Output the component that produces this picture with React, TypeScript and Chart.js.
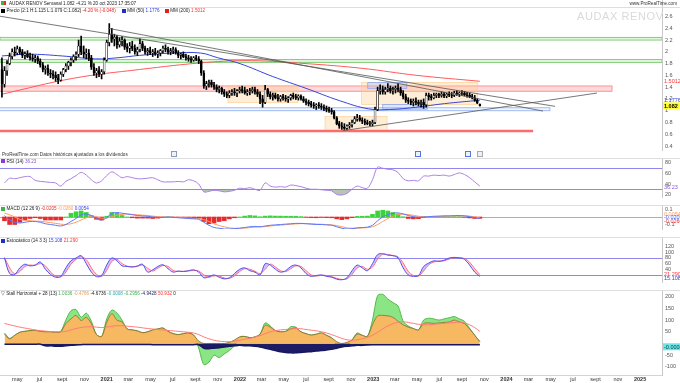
import React, { useEffect, useRef } from "react";
import { Chart, registerables } from "chart.js";

Chart.register(...registerables);

const FONT = '"Liberation Sans", Arial, sans-serif';
Chart.defaults.font.family = FONT;

const DAY0 = Date.UTC(2020, 0, 1);
const toDay = (s: string): number => (Date.parse(s + "T00:00:00Z") - DAY0) / 86400000;

// ---------- axis range (days since 2020-01-01) ----------
const X_MIN = 73.7;
const X_MAX = 1887;
const FIRST_WEEK = "2020-03-16";

// ---------- weekly candles ----------
const OPEN = [
  1.70,1.45,1.68,1.80,1.92,2.00,1.98,2.05,2.00,1.94,
  1.97,1.92,1.90,1.88,1.90,1.84,1.78,1.70,1.72,1.64,
  1.62,1.60,1.56,1.52,1.62,1.70,1.76,1.82,1.86,1.92,
  1.96,2.10,2.00,1.96,1.98,1.90,1.74,1.64,1.68,1.62,
  1.66,1.86,2.16,2.30,2.22,2.25,2.12,2.18,2.20,2.08,
  2.06,2.10,2.06,2.00,2.04,2.14,2.06,2.00,2.02,1.98,
  2.00,1.96,1.98,2.02,2.06,2.04,2.00,2.02,2.04,1.98,
  1.94,1.96,1.92,1.90,1.88,1.86,1.90,1.88,1.84,1.64,
  1.42,1.46,1.48,1.44,1.40,1.36,1.38,1.32,1.28,1.26,
  1.30,1.32,1.30,1.34,1.36,1.34,1.30,1.32,1.34,1.36,
  1.32,1.28,1.20,1.14,1.36,1.28,1.24,1.26,1.22,1.20,
  1.24,1.22,1.20,1.22,1.26,1.24,1.22,1.25,1.20,1.16,
  1.14,1.12,1.10,1.08,1.10,1.08,1.06,1.04,1.02,1.00,
  0.98,0.88,0.78,0.74,0.72,0.70,0.74,0.76,0.80,0.86,
  0.88,0.84,0.82,0.80,0.78,0.78,0.80,1.02,1.34,1.36,
  1.32,1.36,1.38,1.34,1.36,1.38,1.36,1.30,1.24,1.18,
  1.16,1.14,1.16,1.14,1.12,1.14,1.10,1.26,1.24,1.22,
  1.26,1.28,1.26,1.28,1.25,1.28,1.27,1.26,1.30,1.28,
  1.30,1.30,1.27,1.26,1.24,1.22,1.18,1.11
];
const HIGH = [
  1.90,1.75,1.85,1.98,2.05,2.08,2.10,2.08,2.04,2.00,
  2.02,1.98,1.96,1.94,1.93,1.88,1.82,1.76,1.78,1.70,
  1.68,1.66,1.62,1.66,1.72,1.80,1.84,1.90,1.95,2.00,
  2.20,2.27,2.10,2.05,2.04,1.94,1.80,1.72,1.75,1.70,
  1.90,2.20,2.48,2.40,2.30,2.28,2.24,2.26,2.22,2.14,
  2.16,2.18,2.12,2.08,2.22,2.18,2.10,2.06,2.08,2.04,
  2.06,2.02,2.04,2.10,2.12,2.08,2.06,2.08,2.07,2.02,
  1.98,2.00,1.96,1.94,1.92,1.92,1.94,1.92,1.86,1.68,
  1.50,1.52,1.52,1.48,1.44,1.42,1.40,1.36,1.32,1.34,
  1.36,1.38,1.36,1.40,1.42,1.40,1.36,1.38,1.40,1.40,
  1.36,1.32,1.26,1.43,1.38,1.32,1.30,1.30,1.28,1.26,
  1.28,1.26,1.24,1.28,1.30,1.28,1.27,1.27,1.24,1.20,
  1.18,1.16,1.14,1.12,1.14,1.12,1.10,1.08,1.06,1.04,
  1.00,0.90,0.82,0.80,0.78,0.76,0.80,0.84,0.90,0.94,
  0.92,0.88,0.86,0.84,0.82,0.84,1.06,1.40,1.44,1.42,
  1.40,1.46,1.42,1.40,1.42,1.46,1.40,1.34,1.28,1.22,
  1.20,1.20,1.22,1.18,1.18,1.20,1.30,1.30,1.28,1.30,
  1.30,1.30,1.32,1.31,1.30,1.32,1.31,1.33,1.34,1.32,
  1.34,1.33,1.31,1.30,1.28,1.26,1.20,1.115
];
const LOW = [
  1.23,1.40,1.60,1.78,1.88,1.93,1.95,1.96,1.90,1.88,
  1.90,1.86,1.84,1.82,1.80,1.74,1.66,1.62,1.60,1.56,
  1.54,1.50,1.46,1.50,1.58,1.66,1.70,1.76,1.82,1.86,
  1.92,1.95,1.90,1.88,1.85,1.70,1.60,1.56,1.58,1.54,
  1.62,1.84,2.10,2.16,2.10,2.06,2.08,2.10,2.04,2.00,
  1.98,2.02,1.96,1.94,2.00,2.02,1.96,1.94,1.95,1.92,
  1.94,1.90,1.93,1.98,2.00,1.96,1.95,1.97,1.96,1.90,
  1.88,1.90,1.86,1.84,1.82,1.84,1.85,1.80,1.60,1.38,
  1.36,1.40,1.40,1.36,1.32,1.30,1.28,1.24,1.22,1.22,
  1.26,1.26,1.24,1.30,1.30,1.28,1.26,1.27,1.30,1.28,
  1.24,1.12,1.06,1.12,1.24,1.20,1.18,1.20,1.16,1.16,
  1.18,1.16,1.14,1.18,1.20,1.19,1.18,1.18,1.14,1.10,
  1.08,1.06,1.04,1.02,1.04,1.02,1.00,0.98,0.97,0.94,
  0.86,0.76,0.70,0.68,0.66,0.66,0.70,0.72,0.78,0.82,
  0.82,0.78,0.76,0.76,0.74,0.74,0.78,1.00,1.28,1.28,
  1.28,1.32,1.30,1.28,1.30,1.32,1.26,1.20,1.14,1.12,
  1.10,1.08,1.10,1.08,1.06,1.04,1.06,1.18,1.18,1.20,
  1.22,1.22,1.23,1.22,1.22,1.24,1.22,1.24,1.26,1.24,
  1.26,1.25,1.23,1.22,1.20,1.16,1.12,1.079
];
const CLOSE = [
  1.45,1.68,1.80,1.92,2.00,1.98,2.05,2.00,1.94,1.97,
  1.92,1.90,1.88,1.90,1.84,1.78,1.70,1.72,1.64,1.62,
  1.60,1.56,1.52,1.62,1.70,1.76,1.82,1.86,1.92,1.96,
  2.10,2.00,1.96,1.98,1.90,1.74,1.64,1.68,1.62,1.66,
  1.86,2.16,2.30,2.22,2.25,2.12,2.18,2.20,2.08,2.06,
  2.10,2.06,2.00,2.04,2.14,2.06,2.00,2.02,1.98,2.00,
  1.96,1.98,2.02,2.06,2.04,2.00,2.02,2.04,1.98,1.94,
  1.96,1.92,1.90,1.88,1.86,1.90,1.88,1.84,1.64,1.42,
  1.46,1.48,1.44,1.40,1.36,1.38,1.32,1.28,1.26,1.30,
  1.32,1.30,1.34,1.36,1.34,1.30,1.32,1.34,1.36,1.32,
  1.28,1.20,1.14,1.36,1.28,1.24,1.26,1.22,1.20,1.24,
  1.22,1.20,1.22,1.26,1.24,1.22,1.25,1.20,1.16,1.14,
  1.12,1.10,1.08,1.10,1.08,1.06,1.04,1.02,1.00,0.98,
  0.88,0.78,0.74,0.72,0.70,0.74,0.76,0.80,0.86,0.88,
  0.84,0.82,0.80,0.78,0.78,0.80,1.02,1.34,1.36,1.32,
  1.36,1.38,1.34,1.36,1.38,1.36,1.30,1.24,1.18,1.16,
  1.14,1.16,1.14,1.12,1.14,1.10,1.26,1.24,1.22,1.26,
  1.28,1.26,1.28,1.25,1.28,1.27,1.26,1.30,1.28,1.30,
  1.30,1.27,1.26,1.24,1.22,1.18,1.13,1.082
];

// ---------- moving averages ----------
const MA50: [string, number][] = [
  ["2020-03-20", 1.93], ["2020-06-01", 1.96], ["2020-09-01", 1.93], ["2020-12-01", 1.88],
  ["2021-02-01", 1.90], ["2021-04-01", 1.94], ["2021-07-01", 1.98], ["2021-09-15", 1.98],
  ["2021-11-01", 1.90], ["2022-01-01", 1.80], ["2022-04-01", 1.58], ["2022-07-01", 1.38],
  ["2022-10-01", 1.17], ["2022-12-20", 1.03], ["2023-02-15", 1.02], ["2023-05-01", 1.06],
  ["2023-07-15", 1.12], ["2023-10-20", 1.178]
];
const MA200: [string, number][] = [
  ["2020-03-20", 1.28], ["2020-10-01", 1.55], ["2021-04-01", 1.70], ["2021-10-01", 1.82],
  ["2022-02-01", 1.85], ["2022-07-01", 1.80], ["2022-12-01", 1.72], ["2023-05-01", 1.60],
  ["2023-10-20", 1.50]
];

// ---------- drawn objects on the price panel ----------
const GREEN_ZONES: [number, number][] = [[2.2, 2.245], [1.82, 1.87]];
const RED_ZONE: [number, number] = [1.33, 1.42];
const RED_ZONE_END = "2024-10-16";
const BLUE_ZONE: [number, number] = [1.0, 1.05];
const BLUE_ZONE_END = "2024-04-29";
const SUPPORT_LEVEL = 0.655;
const SUPPORT_END = "2024-03-14";
const TRENDLINES: [string, number, string, number][] = [
  ["2020-03-14", 2.606, "2024-05-13", 1.074],
  ["2021-01-05", 2.40, "2024-04-10", 0.994],
  ["2022-10-10", 0.66, "2024-09-05", 1.30]
];
const ORANGE_BOXES: [string, string, number, number][] = [
  ["2021-11-29", "2022-06-09", 1.14, 1.43],
  ["2022-08-22", "2023-02-08", 0.655, 0.90],
  ["2022-11-30", "2023-10-14", 1.106, 1.48]
];
const BLUE_BOXES: [string, string, number, number][] = [
  ["2022-12-17", "2023-04-03", 1.38, 1.477],
  ["2023-01-27", "2023-05-29", 1.026, 1.106]
];

// ---------- indicators (one value every 2 weeks) ----------
const RSI = [42,51,50,52,54,54,47,45,44,43, 42,36,45,50,56,62,57,48,42,46, 56,63,58,52,54,52,50,50,51,52,
  48,44,44,44,45,44,48,46,40,25, 26,28,27,25,26,28,32,31,33,30, 28,42,36,34,35,34,38,37,35,32,
  30,30,29,28,27,20,19,22,30,36, 33,32,48,72,70,68,67,62,50,46, 47,46,55,55,57,56,57,55,58,61, 58,52,44,36];
const RSI_LEVELS = [70, 30];

const MACD = [0.02,-0.04,-0.07,-0.08,-0.07,-0.06,-0.06,-0.07,-0.09,-0.10,
  -0.11,-0.12,-0.10,-0.06,-0.02,0.03,0.04,0.02,-0.02,-0.04,
  -0.01,0.05,0.06,0.05,0.04,0.03,0.02,0.015,0.01,0.0,
  -0.005,-0.005,0.0,-0.005,-0.01,-0.015,-0.02,-0.025,-0.03,-0.07,
  -0.11,-0.14,-0.15,-0.16,-0.16,-0.155,-0.15,-0.14,-0.13,-0.125,
  -0.13,-0.12,-0.11,-0.105,-0.10,-0.095,-0.09,-0.085,-0.085,-0.09,
  -0.095,-0.10,-0.10,-0.105,-0.11,-0.13,-0.15,-0.16,-0.155,-0.145,
  -0.14,-0.135,-0.11,-0.05,0.0,0.03,0.05,0.055,0.04,0.02,
  0.005,-0.005,0.0,0.005,0.01,0.012,0.015,0.015,0.018,0.02,
  0.015,0.005,-0.01,-0.02];
const SIGNAL = [0.05,0.03,0.0,-0.03,-0.045,-0.05,-0.055,-0.058,-0.065,-0.075,
  -0.085,-0.095,-0.10,-0.09,-0.07,-0.04,-0.01,0.005,0.0,-0.015,
  -0.015,0.005,0.025,0.035,0.04,0.035,0.03,0.025,0.02,0.012,
  0.005,0.0,-0.002,-0.003,-0.006,-0.01,-0.014,-0.018,-0.022,-0.035,
  -0.06,-0.09,-0.115,-0.13,-0.145,-0.15,-0.15,-0.148,-0.142,-0.135,
  -0.132,-0.128,-0.12,-0.113,-0.108,-0.102,-0.097,-0.092,-0.088,-0.088,
  -0.09,-0.094,-0.097,-0.10,-0.104,-0.115,-0.13,-0.145,-0.15,-0.15,
  -0.146,-0.142,-0.13,-0.10,-0.06,-0.02,0.01,0.03,0.038,0.033,
  0.022,0.01,0.004,0.003,0.005,0.008,0.011,0.013,0.015,0.017,
  0.017,0.012,0.002,-0.01];
const HIST = [-0.05,-0.10,-0.10,-0.07,-0.04,-0.02,-0.01,-0.02,-0.04,-0.04,
  -0.04,-0.04,0.0,0.05,0.07,0.08,0.06,0.02,-0.03,-0.04,
  0.01,0.06,0.05,0.02,0.0,-0.01,-0.015,-0.015,-0.015,-0.02,
  -0.015,-0.008,0.003,-0.003,-0.006,-0.008,-0.01,-0.012,-0.015,-0.06,
  -0.09,-0.08,-0.06,-0.05,-0.025,-0.01,0.0,0.012,0.02,0.015,
  0.003,0.012,0.015,0.012,0.012,0.01,0.01,0.01,0.005,-0.003,
  -0.008,-0.01,-0.005,-0.008,-0.01,-0.025,-0.035,-0.025,-0.008,0.008,
  0.01,0.012,0.035,0.08,0.09,0.08,0.06,0.04,0.003,-0.02,
  -0.025,-0.022,-0.006,0.003,0.008,0.006,0.006,0.003,0.005,0.005,
  -0.003,-0.012,-0.02,-0.018];

const STOCH_K = [80,25,22,45,58,52,55,66,40,22, 12,15,45,70,80,88,60,30,14,18, 55,80,70,52,50,48,52,58,30,38,
  50,56,42,30,34,32,35,38,30,10, 14,20,12,6,10,25,40,45,35,30, 20,60,55,40,30,35,50,55,45,25,
  15,18,20,15,12,5,3,10,35,55, 45,35,60,92,95,90,88,80,45,20, 15,18,50,62,70,68,72,80,82,80, 75,55,30,15];
const STOCH_D = [82,45,24,32,50,55,54,60,52,30, 16,13,30,58,75,84,74,45,22,15, 36,68,75,60,51,49,50,55,44,34,
  44,53,50,36,32,33,34,36,34,20, 12,17,16,9,8,17,32,42,40,33, 25,40,58,48,35,32,42,52,50,35,
  20,16,19,18,14,8,4,6,22,45, 50,40,48,76,93,92,89,84,62,32, 18,16,34,56,66,69,70,76,81,81, 78,65,42,21];
const STOCH_LEVELS = [80, 20];

const ORANGE = [40,20,35,48,52,55,56,52,50,50, 48,50,85,105,120,98,112,85,38,30, 90,128,100,92,62,58,54,46,50,58,
  62,66,52,42,38,42,45,36,10,0, 0,0,0,0,5,15,28,30,25,28, 40,78,70,55,50,52,62,66,50,42,
  36,40,45,35,24,8,0,5,15,40, 35,30,80,118,120,118,112,95,80,70, 64,58,85,88,86,88,90,92,100,92, 85,62,35,8];
const GREEN = [45,22,35,48,52,55,56,52,50,50, 48,52,100,140,145,112,130,95,38,30, 105,143,130,100,62,58,54,46,50,58,
  62,66,52,42,38,42,45,36,-20,-90, -80,-50,-60,-45,-30,-10,28,30,25,28, 40,88,75,55,50,52,72,70,50,42,
  36,40,45,35,24,-5,-10,-8,15,45, 35,30,100,205,210,190,175,160,95,75, 64,58,100,108,105,100,105,110,115,105, 95,65,35,8];
const NAVY = [-3,-3,-3,-3,-3,-3,-3,-3,-10,-10, -12,-12,-10,-8,-6,-5,-4,-4,-4,-4, -4,-4,-4,-4,-4,-4,-4,-4,-4,-5,
  -5,-5,-5,-5,-5,-5,-5,-5,-5,-20, -22,-20,-18,-15,-12,-10,-8,-10,-10,-12, -15,-20,-25,-30,-35,-38,-40,-40,-38,-36,
  -35,-32,-30,-28,-25,-20,-15,-12,-10,-8, -8,-6,-5,-5,-5,-5,-5,-5,-5,-5, -5,-5,-5,-5,-5,-5,-5,-5,-5,-5, -5,-5,-5,-5];
const REDMA = [86,80,75,70,66,62,58,55,53,51, 50,50,52,58,64,68,71,72,70,68, 70,74,76,76,74,72,70,67,64,62,
  60,58,56,54,52,50,48,45,38,28, 20,14,10,8,8,10,14,18,22,28, 34,42,50,55,58,60,62,64,63,60,
  57,54,50,45,38,30,22,16,14,16, 20,26,35,48,62,75,85,92,93,90, 86,82,80,80,82,84,86,88,90,91, 88,80,68,52];

// ---------- tick labels ----------
const PRICE_TICKS = [2.6, 2.4, 2.2, 2.0, 1.8, 1.6, 1.4, 1.2, 1.0, 0.8, 0.6, 0.4];
const RSI_TICKS = [80, 60, 40, 20];
const MACD_TICKS = [0.1, -0.1];
const STOCH_TICKS = [120, 100, 80, 60, 40];
const BOTTOM_TICKS = [200, 150, 100, 50, -50, -100];
const X_TICK_DATES = [
  "2020-05-01","2020-07-01","2020-09-01","2020-11-01",
  "2021-01-01","2021-03-01","2021-05-01","2021-07-01","2021-09-01","2021-11-01",
  "2022-01-01","2022-03-01","2022-05-01","2022-07-01","2022-09-01","2022-11-01",
  "2023-01-01","2023-03-01","2023-05-01","2023-07-01","2023-09-01","2023-11-01",
  "2024-01-01","2024-03-01","2024-05-01","2024-07-01","2024-09-01","2024-11-01",
  "2025-01-01"
];
const X_TICK_LABELS = [
  "may","jul","sept","nov",
  "2021","mar","may","jul","sept","nov",
  "2022","mar","may","jul","sept","nov",
  "2023","mar","may","jul","sept","nov",
  "2024","mar","may","jul","sept","nov",
  "2025"
];

// ---------- helpers ----------
const weekX = (w: number) => toDay(FIRST_WEEK) + 7 * w + 4;
const indX = (i: number) => weekX(2 * i + 1);
const series = (vals: number[]) => vals.map((v, i) => ({ x: indX(i), y: v }));
const dated = (pts: [string, number][]) => pts.map(([d, v]) => ({ x: toDay(d), y: v }));

type Band = { x0: number; x1: number; lo: number; hi: number; fill: string; stroke: string; lw: number };
type Seg = { x0: number; y0: number; x1: number; y1: number; color: string; lw: number };
type Tag = { v: number; text: string; color: string; bg?: string; bold?: boolean };
type Spec = { under?: Band[]; levels?: { v: number; color: string; lw: number }[]; segs?: Seg[]; tags?: Tag[] };

function annot(spec: Spec) {
  return {
    id: "annot",
    beforeDatasetsDraw(chart: any) {
      const { ctx, chartArea: a, scales } = chart;
      const xs = scales.x, ys = scales.y;
      ctx.save();
      ctx.beginPath();
      ctx.rect(a.left, a.top, a.right - a.left, a.bottom - a.top);
      ctx.clip();
      for (const b of spec.under || []) {
        const X0 = xs.getPixelForValue(b.x0), X1 = xs.getPixelForValue(b.x1);
        const Y0 = ys.getPixelForValue(b.hi), Y1 = ys.getPixelForValue(b.lo);
        ctx.fillStyle = b.fill;
        ctx.fillRect(X0, Y0, X1 - X0, Y1 - Y0);
        if (b.lw > 0) {
          ctx.strokeStyle = b.stroke;
          ctx.lineWidth = b.lw;
          ctx.strokeRect(X0, Y0, X1 - X0, Y1 - Y0);
        }
      }
      for (const l of spec.levels || []) {
        const Y = Math.round(ys.getPixelForValue(l.v)) + 0.5;
        ctx.strokeStyle = l.color;
        ctx.lineWidth = l.lw;
        ctx.beginPath();
        ctx.moveTo(a.left, Y);
        ctx.lineTo(a.right, Y);
        ctx.stroke();
      }
      ctx.restore();
    },
    afterDatasetsDraw(chart: any) {
      const { ctx, chartArea: a, scales } = chart;
      const xs = scales.x, ys = scales.y;
      ctx.save();
      ctx.beginPath();
      ctx.rect(a.left, a.top, a.right - a.left, a.bottom - a.top);
      ctx.clip();
      for (const s of spec.segs || []) {
        ctx.strokeStyle = s.color;
        ctx.lineWidth = s.lw;
        ctx.beginPath();
        ctx.moveTo(xs.getPixelForValue(s.x0), ys.getPixelForValue(s.y0));
        ctx.lineTo(xs.getPixelForValue(s.x1), ys.getPixelForValue(s.y1));
        ctx.stroke();
      }
      ctx.restore();
    },
    afterDraw(chart: any) {
      const { ctx, chartArea: a, scales } = chart;
      const ys = scales.y;
      ctx.save();
      ctx.textBaseline = "middle";
      for (const t of spec.tags || []) {
        const Y = ys.getPixelForValue(t.v);
        ctx.font = `${t.bold ? "bold " : ""}5.5px ${FONT}`;
        const w = ctx.measureText(t.text).width;
        if (t.bg) {
          ctx.fillStyle = t.bg;
          ctx.fillRect(a.right + 1, Y - 3.5, w + 3, 7);
        }
        ctx.fillStyle = t.color;
        ctx.fillText(t.text, a.right + 2, Y + 0.3);
      }
      ctx.restore();
    }
  };
}

function fmtNum(v: number) {
  return String(Math.round(v * 100) / 100);
}

function baseOptions(yMin: number, yMax: number, yTicks: number[], showX: boolean) {
  return {
    responsive: false,
    animation: false,
    devicePixelRatio: 1,
    events: [],
    layout: { padding: 0 },
    plugins: { legend: { display: false }, tooltip: { enabled: false } },
    scales: {
      x: {
        type: "linear",
        min: X_MIN,
        max: X_MAX,
        offset: false,
        display: showX,
        grid: { display: false, drawTicks: false },
        border: { display: true, color: "#d4d4d4" },
        afterBuildTicks: (s: any) => { s.ticks = X_TICK_DATES.map((d) => ({ value: toDay(d) })); },
        afterFit: (s: any) => { s.height = 8; s.paddingLeft = 0; s.paddingRight = 0; },
        ticks: {
          autoSkip: false,
          maxRotation: 0,
          minRotation: 0,
          padding: 1.5,
          color: "#333",
          font: (c: any) => ({ size: 5.5, weight: /^\d{4}$/.test(X_TICK_LABELS[c.index] || "") ? "bold" : "normal" }),
          callback: (_v: any, i: number) => X_TICK_LABELS[i]
        }
      },
      y: {
        type: "linear",
        position: "right",
        min: yMin,
        max: yMax,
        grid: { display: false, drawTicks: false },
        border: { display: true, color: "#c8c8c8" },
        afterBuildTicks: (s: any) => { s.ticks = yTicks.map((v) => ({ value: v })); },
        afterFit: (s: any) => { s.width = 18; s.paddingTop = 0; s.paddingBottom = 0; },
        ticks: { padding: 3, color: "#555", font: { size: 5.5 }, callback: (v: any) => fmtNum(Number(v)) }
      }
    }
  };
}

function priceConfig(): any {
  const n = CLOSE.length;
  const wick = [] as any[];
  const body = [] as any[];
  const bodyBg = [] as string[];
  for (let w = 0; w < n; w++) {
    wick.push({ x: weekX(w), y: [LOW[w], HIGH[w]] });
    body.push({ x: weekX(w), y: [Math.min(OPEN[w], CLOSE[w]), Math.max(OPEN[w], CLOSE[w])] });
    bodyBg.push(CLOSE[w] >= OPEN[w] ? "#ffffff" : "#000000");
  }
  const spec: Spec = {
    under: [
      ...GREEN_ZONES.map(([lo, hi]) => ({ x0: X_MIN, x1: X_MAX, lo, hi, fill: "rgba(150,225,140,0.30)", stroke: "#86cf7c", lw: 1 })),
      { x0: X_MIN - 5, x1: toDay(RED_ZONE_END), lo: RED_ZONE[0], hi: RED_ZONE[1], fill: "rgba(255,150,150,0.35)", stroke: "#ff8f8f", lw: 1 },
      { x0: X_MIN - 5, x1: toDay(BLUE_ZONE_END), lo: BLUE_ZONE[0], hi: BLUE_ZONE[1], fill: "rgba(190,210,255,0.22)", stroke: "#9fbaf0", lw: 1 },
      ...ORANGE_BOXES.map(([a, b, lo, hi]) => ({ x0: toDay(a), x1: toDay(b), lo, hi, fill: "rgba(255,205,140,0.35)", stroke: "rgba(255,200,130,0.7)", lw: 0.8 })),
      ...BLUE_BOXES.map(([a, b, lo, hi]) => ({ x0: toDay(a), x1: toDay(b), lo, hi, fill: "rgba(150,180,255,0.30)", stroke: "#8aa8f5", lw: 0.8 }))
    ],
    segs: [
      { x0: X_MIN - 5, y0: SUPPORT_LEVEL, x1: toDay(SUPPORT_END), y1: SUPPORT_LEVEL, color: "#ff6b6b", lw: 2.5 },
      ...TRENDLINES.map(([a, p0, b, p1]) => ({ x0: toDay(a), y0: p0, x1: toDay(b), y1: p1, color: "#555555", lw: 0.8 }))
    ],
    tags: [
      { v: 1.5012, text: "1.5012", color: "#ff3030" },
      { v: 1.1776, text: "1.1776", color: "#3040e0" },
      { v: 1.082, text: "1.082", color: "#000", bg: "#ffff30", bold: true }
    ]
  };
  return {
    type: "line",
    data: {
      datasets: [
        { type: "bar", data: body, backgroundColor: bodyBg, borderColor: "#000", borderWidth: 0.6, borderSkipped: false, barThickness: 2, grouped: false, order: 0 },
        { type: "bar", data: wick, backgroundColor: "#000", borderWidth: 0, barThickness: 1, grouped: false, order: 1 },
        { data: dated(MA50), borderColor: "#3646d6", borderWidth: 1, pointRadius: 0, tension: 0.4, order: 2 },
        { data: dated(MA200), borderColor: "#ff5a5a", borderWidth: 1, pointRadius: 0, tension: 0.4, order: 3 }
      ]
    },
    options: baseOptions(0.332, 2.881, PRICE_TICKS, false),
    plugins: [annot(spec)]
  };
}

function rsiConfig(): any {
  return {
    type: "line",
    data: {
      datasets: [
        {
          data: series(RSI), borderColor: "#ad7fe6", borderWidth: 1, pointRadius: 0, tension: 0.35,
          fill: { target: { value: 30 }, above: "rgba(0,0,0,0)", below: "rgba(120,150,120,0.55)" }
        }
      ]
    },
    options: baseOptions(15.23, 89.48, RSI_TICKS, false),
    plugins: [annot({
      levels: RSI_LEVELS.map((v) => ({ v, color: "#8f86f0", lw: 1 })),
      tags: [{ v: 33, text: "36.23", color: "#8a5ad6" }]
    })]
  };
}

function macdConfig(): any {
  return {
    type: "line",
    data: {
      datasets: [
        { data: series(MACD), borderColor: "#5a78ff", borderWidth: 1, pointRadius: 0, tension: 0.35, order: 0 },
        { data: series(SIGNAL), borderColor: "#ff9a60", borderWidth: 1, pointRadius: 0, tension: 0.35, order: 1 },
        {
          type: "bar", data: series(HIST), barThickness: 4, grouped: false, order: 2,
          backgroundColor: HIST.map((v) => (v >= 0 ? "#3bd23b" : "#e52b2b"))
        }
      ]
    },
    options: baseOptions(-0.16, 0.16, MACD_TICKS, false),
    plugins: [annot({
      levels: [{ v: 0, color: "#a9a3f5", lw: 1 }],
      tags: [
        { v: 0.04, text: "0.0054", color: "#ff9a60" },
        { v: -0.007, text: "-0.0205", color: "#4060ff" },
        { v: -0.05, text: "-0.0260", color: "#e52b2b" }
      ]
    })]
  };
}

function stochConfig(): any {
  return {
    type: "line",
    data: {
      datasets: [
        {
          data: series(STOCH_K), borderColor: "#5050f0", borderWidth: 1, pointRadius: 0, tension: 0.35,
          fill: { target: 1, above: "rgba(170,140,255,0.55)", below: "rgba(255,160,190,0.55)" }
        },
        { data: series(STOCH_D), borderColor: "#ff6070", borderWidth: 1, pointRadius: 0, tension: 0.35 }
      ]
    },
    options: baseOptions(-4.9, 154.1, STOCH_TICKS, false),
    plugins: [annot({
      levels: STOCH_LEVELS.map((v) => ({ v, color: "#8f86f0", lw: 1 })),
      tags: [
        { v: 23, text: "21.290", color: "#ff3030" },
        { v: 10, text: "15.108", color: "#3040e0" }
      ]
    })]
  };
}

function bottomConfig(): any {
  return {
    type: "line",
    data: {
      datasets: [
        {
          data: series(GREEN), borderColor: "#52b84a", borderWidth: 1, pointRadius: 0, tension: 0.3, order: 3,
          fill: { target: 1, above: "rgba(120,225,110,0.85)", below: "rgba(120,225,110,0.85)" }
        },
        {
          data: series(ORANGE), borderColor: "#7a6a2a", borderWidth: 0.8, pointRadius: 0, tension: 0.3, order: 2,
          fill: { target: "origin", above: "rgba(247,180,90,0.95)", below: "rgba(0,0,0,0)" }
        },
        {
          data: series(NAVY), borderColor: "#17175e", borderWidth: 1.5, pointRadius: 0, tension: 0.3, order: 1,
          fill: { target: "origin", above: "rgba(0,0,0,0)", below: "#1b1b66" }
        },
        { data: series(REDMA), borderColor: "#ff7a7a", borderWidth: 1, pointRadius: 0, tension: 0.4, order: 0 }
      ]
    },
    options: baseOptions(-134.6, 228.6, BOTTOM_TICKS, true),
    plugins: [annot({
      tags: [{ v: -14, text: "-0.0008", color: "#003c3c", bg: "#6fe6e6" }]
    })]
  };
}

const TITLE = "AUDAX RENOV Semanal 1.082 -4.21 % 20 oct 2023 17:35:07";
const SITE = "www.ProRealTime.com";
const WATERMARK = "AUDAX RENOV";
const SOURCE_NOTE = "ProRealTime.com Datos históricos ajustados a los dividendos";

const txt = (left: number, top: number, extra: any = {}) => ({
  position: "absolute" as const, left, top, fontSize: 4.6, lineHeight: "5px", whiteSpace: "nowrap" as const, color: "#222", ...extra
});
const sq = (color: string) => (
  <span style={{ display: "inline-block", width: 4, height: 4, background: color, marginRight: 1.5, verticalAlign: "-0.5px" }} />
);
const hsep = (top: number) => (
  <div style={{ position: "absolute", left: 0, top, width: 680, height: 1, background: "#dedede" }} />
);
const icon = (left: number, color: string) => (
  <div style={{ position: "absolute", left, top: 150.5, width: 4, height: 4, border: `1px solid ${color}`, background: "#eef2ff" }} />
);

export default function App() {
  const r1 = useRef<HTMLCanvasElement>(null);
  const r2 = useRef<HTMLCanvasElement>(null);
  const r3 = useRef<HTMLCanvasElement>(null);
  const r4 = useRef<HTMLCanvasElement>(null);
  const r5 = useRef<HTMLCanvasElement>(null);

  useEffect(() => {
    const charts = [
      new Chart(r1.current as HTMLCanvasElement, priceConfig()),
      new Chart(r2.current as HTMLCanvasElement, rsiConfig()),
      new Chart(r3.current as HTMLCanvasElement, macdConfig()),
      new Chart(r4.current as HTMLCanvasElement, stochConfig()),
      new Chart(r5.current as HTMLCanvasElement, bottomConfig())
    ];
    return () => charts.forEach((c) => c.destroy());
  }, []);

  const cv = (top: number) => ({ position: "absolute" as const, left: 0, top });

  return (
    <div style={{ position: "absolute", left: 0, top: 0, width: 680, height: 383, background: "#fff", overflow: "hidden", fontFamily: FONT }}>
      <canvas ref={r1} width={680} height={158} style={cv(0)} />
      <canvas ref={r2} width={680} height={47} style={cv(158)} />
      <canvas ref={r3} width={680} height={32} style={cv(205)} />
      <canvas ref={r4} width={680} height={53} style={cv(237)} />
      <canvas ref={r5} width={680} height={93} style={cv(290)} />

      {hsep(6.5)}
      {hsep(158)}
      {hsep(205)}
      {hsep(237)}
      {hsep(290)}

      <div style={txt(1, 0.8)}>
        <span style={{ display: "inline-block", width: 3, height: 4, background: "#3cb44b", verticalAlign: "-0.5px" }} />
        <span style={{ display: "inline-block", width: 2, height: 4, background: "#e03030", marginRight: 3, verticalAlign: "-0.5px" }} />
        {TITLE}
      </div>
      <div style={txt(0, 0.8, { left: undefined, right: 3, color: "#333" })}>{SITE}</div>
      <div style={txt(1, 8)}>
        {sq("#000")}Precio (2:1 H:1.115 L:1.079 C:1.082) <span style={{ color: "#e02020" }}>-4.20 % (-0.048)</span>
        <span style={{ marginLeft: 6 }}>{sq("#2030c0")}MM (50) <span style={{ color: "#3040e0" }}>1.1776</span></span>
        <span style={{ marginLeft: 5 }}>{sq("#e02020")}MM (200) <span style={{ color: "#ff3030" }}>1.5012</span></span>
      </div>
      <div style={{ position: "absolute", left: 577, top: 9.5, fontSize: 11, lineHeight: "12px", color: "#dadada", letterSpacing: 0.6, whiteSpace: "nowrap" }}>{WATERMARK}</div>
      <div style={txt(2, 151.5, { color: "#333" })}>{SOURCE_NOTE}</div>
      {icon(171, "#8899bb")}
      {icon(415, "#5577dd")}
      {icon(465, "#5577dd")}
      {icon(477, "#aaaaaa")}

      <div style={txt(1, 158.8)}>{sq("#8a3ad6")}RSI (14) <span style={{ color: "#8a5ad6" }}>36.23</span></div>
      <div style={txt(1, 206)}>
        {sq("#3cb44b")}MACD (12 26 9) <span style={{ color: "#e52b2b" }}>-0.0205</span>{" "}
        <span style={{ color: "#ff9a60" }}>-0.0260</span>{" "}<span style={{ color: "#3040e0" }}>0.0054</span>
      </div>
      <div style={txt(1, 238)}>
        {sq("#2030c0")}Estocástico (14 3 3) <span style={{ color: "#3040e0" }}>15.108</span>{" "}
        <span style={{ color: "#ff3030" }}>21.290</span>
      </div>
      <div style={txt(1, 291)}>
        ▽ Stall Horizontal + 28 (13){" "}
        <span style={{ color: "#3cb44b" }}>1.0036</span>{" "}
        <span style={{ color: "#e8a050" }}>-0.4786</span>{" "}
        <span>-4.6736</span>{" "}
        <span style={{ color: "#20b0b0" }}>-0.0008</span>{" "}
        <span style={{ color: "#3cb44b" }}>-0.2956</span>{" "}
        <span style={{ color: "#1b1b66" }}>-4.9428</span>{" "}
        <span style={{ color: "#ff3030" }}>50.932</span> 0
      </div>
    </div>
  );
}
